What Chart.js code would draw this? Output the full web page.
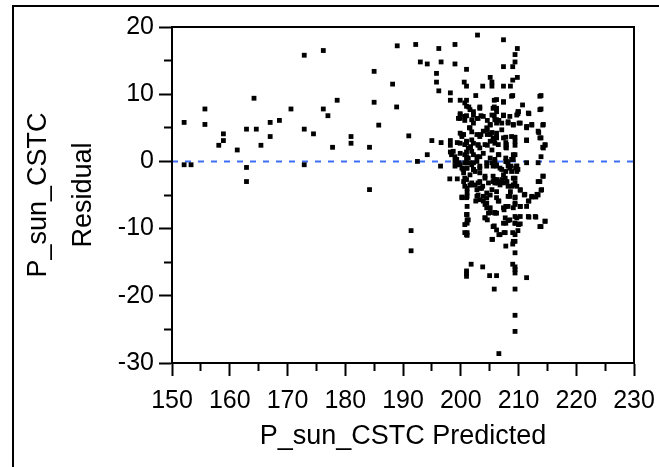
<!DOCTYPE html>
<html>
<head>
<meta charset="utf-8">
<script src="https://cdn.jsdelivr.net/npm/chart.js@4.4.1/dist/chart.umd.min.js"></script>
<style>
  html, body { margin: 0; padding: 0; background: #fff; }
</style>
</head>
<body>
<canvas id="myChart" width="659" height="467"></canvas>
<script>
// residuals vs predicted
const lowRange = [
    [152.1, 5.8], [152.1, -0.5], [153.3, -0.5], [155.7, 7.8], [155.7, 5.5], [158.1, 2.4], [158.9, 4.1],
    [158.9, 3.1], [161.3, 1.7], [162.9, -0.9], [162.9, -3.0], [162.9, 4.8], [164.2, 9.4], [164.6, 4.8],
    [165.4, 2.4], [167.0, 5.8], [167.0, 3.7], [168.6, 6.1], [170.6, 7.8], [172.9, 15.8], [172.9, 4.8],
    [172.9, -0.5], [174.5, 4.1], [176.2, 16.5], [176.2, 7.8], [177.0, 6.8], [178.6, 9.1], [177.8, 2.1],
    [181.0, 3.7], [181.0, 2.7], [184.2, 2.1], [184.2, -4.2], [185.0, 13.4], [185.0, 8.8], [185.8, 5.4]
]
const midRange = [
    [188.2, 11.5], [189.0, 17.2], [188.9, 8.1], [191.0, 3.8], [191.4, -10.3], [191.4, -13.3], [192.2, 17.4],
    [192.5, 0.0], [193.0, 14.8], [194.2, 14.5], [194.2, 1.0], [195.0, 3.1], [195.8, 13.1], [195.8, 11.8],
    [196.2, 10.5], [196.2, 16.8], [196.6, 14.8], [196.6, 2.8], [196.5, -0.7], [198.2, 10.2], [198.2, 9.1],
    [198.2, 3.1], [198.2, 2.4], [198.2, 1.4], [198.1, -2.6], [199.0, 17.4], [199.0, 14.5], [199.0, 0.7],
    [199.0, 0.0], [199.4, 2.8], [199.4, -2.6], [199.3, 0.3], [198.4, 1.0], [198.7, 1.5], [199.7, -0.2],
    [199.2, -0.5]
]
const clusterUpper = [
    [202.9, 18.8], [207.4, 18.1], [209.8, 16.8], [209.4, 15.9], [209.4, 14.8], [209.0, 14.1], [207.4, 14.1],
    [201.0, 13.7], [200.6, 11.8], [201.0, 11.2], [205.1, 12.5], [205.4, 11.8], [205.4, 11.2], [203.8, 11.2],
    [207.4, 11.2], [208.6, 11.2], [209.0, 12.1], [209.8, 12.5], [202.6, 9.8], [205.8, 9.1], [207.4, 8.8],
    [209.0, 9.8], [213.9, 9.8], [199.9, 9.1], [201.0, 9.1], [201.4, 8.1], [202.2, 7.4], [203.3, 8.1],
    [205.8, 8.1], [206.2, 7.4], [209.9, 7.4], [210.7, 8.4], [213.9, 7.8], [199.9, 7.1], [199.9, 6.4],
    [201.0, 6.8], [202.8, 6.4], [203.5, 6.8], [204.6, 6.1], [205.8, 6.8], [207.4, 6.8], [209.9, 7.1],
    [211.8, 7.1], [200.7, 6.1], [202.2, 5.7], [205.1, 5.4], [206.6, 6.1], [208.2, 5.7], [209.1, 5.4],
    [210.1, 5.7], [211.4, 5.0], [212.3, 5.4], [214.2, 5.4], [204.6, 4.7], [207.1, 4.7], [201.5, 5.0],
    [201.9, 4.4], [200.2, 4.0], [203.5, 4.0], [204.6, 4.0], [205.4, 4.3], [206.2, 3.6], [207.8, 3.6],
    [209.4, 3.6], [213.5, 4.3], [201.0, 2.8], [201.7, 2.2], [203.0, 2.4], [204.6, 2.4], [205.8, 3.1],
    [207.8, 2.8], [207.8, 2.1], [209.4, 2.4], [211.4, 3.1], [213.9, 3.5], [214.6, 2.4], [214.2, 2.1],
    [201.0, 1.4], [201.0, 0.7], [202.2, 1.0], [203.3, 0.7], [206.6, 1.0], [209.4, 1.0], [213.9, 0.7],
    [201.3, 0.5], [207.8, 0.5], [209.1, 0.3], [205.9, 0.3], [207.8, 0.0], [202.8, 0.0]
]
const clusterLower = [
    [201.5, -0.2], [205.4, -0.2], [211.4, -0.2], [213.4, -0.2], [200.7, -0.2], [202.2, -0.2], [204.5, -0.2],
    [208.2, -0.2], [208.7, -0.7], [209.5, -1.0], [209.9, -1.2], [208.8, -1.5], [207.8, -1.5], [207.4, -2.0],
    [207.1, -2.7], [208.0, -3.0], [209.1, -2.5], [209.4, -3.2], [209.7, -3.7], [208.8, -3.7], [207.4, -3.2],
    [206.5, -3.2], [205.6, -3.0], [204.8, -3.2], [204.2, -2.2], [203.3, -3.0], [201.9, -3.2], [201.0, -2.7],
    [200.5, -3.0], [200.2, -1.0], [200.5, -1.7], [201.6, -2.0], [202.5, -1.5], [202.8, -4.2], [205.9, -3.2],
    [206.2, -4.5], [205.4, -4.2], [204.5, -4.7], [206.8, -3.0], [205.8, -2.7], [203.3, -0.7], [202.2, -1.2],
    [203.3, -1.7], [200.4, -1.2], [201.6, -3.5], [202.5, -3.5], [203.3, -4.0], [203.8, -3.7], [200.2, -5.3],
    [203.0, -5.0], [203.9, -5.2], [202.6, -5.9], [203.9, -5.9], [204.5, -6.2], [205.1, -5.0], [204.5, -6.9],
    [205.1, -7.6], [205.9, -7.6], [204.2, -8.4], [204.6, -8.7], [205.8, -9.6], [206.2, -10.2], [206.6, -10.9],
    [205.5, -11.6], [207.5, -10.6], [207.8, -9.2], [208.2, -8.8], [207.5, -7.2], [207.8, -6.7], [206.6, -5.9],
    [208.2, -5.2], [208.6, -4.5], [209.4, -5.3], [209.4, -6.2], [209.1, -6.9], [209.4, -8.2], [210.3, -8.2],
    [209.4, -9.2], [210.3, -9.3], [209.9, -10.3], [209.0, -10.6], [209.4, -11.9], [209.0, -12.3], [207.8, -12.6],
    [209.4, -13.6], [209.0, -15.3], [209.4, -15.7], [209.4, -16.1], [209.4, -16.6], [211.4, -17.3], [205.8, -19.0],
    [209.4, -19.0], [209.4, -22.9], [209.4, -25.3], [206.6, -28.6], [203.8, -15.7], [205.0, -17.0], [206.2, -17.0],
    [201.8, -15.3], [201.0, -16.3], [201.0, -16.7], [201.0, -17.1], [201.1, -1.0], [201.1, -4.0], [201.1, -4.6],
    [201.1, -5.2], [201.1, -6.7], [201.1, -7.9], [201.1, -8.7], [201.1, -9.2], [201.1, -10.6], [201.1, -11.0],
    [214.2, -2.2], [213.4, -3.0], [213.9, -4.3], [210.3, -4.3], [211.0, -5.0], [211.8, -5.9], [212.3, -5.3],
    [213.0, -5.3], [213.4, -5.0], [211.4, -6.7], [210.3, -6.7], [211.8, -8.3], [213.0, -8.3], [214.6, -8.9],
    [213.9, -9.7]
]
// the crowded middle of the cluster, second pass
const clusterCore = [
    [200.7, 8.7], [201.0, 8.2], [201.6, 7.7], [203.3, 7.9], [205.6, 7.9], [202.2, 6.9], [201.9, 6.2],
    [200.7, 6.7], [199.9, 6.9], [199.6, 6.4], [203.0, 6.4], [203.9, 6.7], [205.4, 6.9], [205.9, 6.2],
    [206.2, 5.7], [205.1, 5.5], [204.5, 5.0], [203.9, 4.5], [203.3, 3.7], [202.8, 4.0], [201.6, 5.0],
    [200.5, 4.0], [199.9, 4.2], [200.2, 3.7], [205.1, 4.0], [205.6, 3.5], [206.2, 4.2], [199.9, 2.7],
    [200.7, 2.5], [201.3, 2.0], [201.0, 3.0], [201.9, 3.2], [202.2, 2.7], [203.0, 2.5], [203.3, 2.0],
    [204.2, 2.5], [205.1, 3.0], [205.9, 2.7], [205.4, 1.7], [206.5, 2.5], [199.9, 1.2], [200.7, 1.0],
    [201.9, 1.5], [202.8, 0.7], [203.9, 1.2], [205.1, 0.5], [205.9, 0.0], [201.0, 0.0], [201.9, -0.5],
    [199.9, -0.5], [206.2, 9.2], [207.4, 8.9], [208.8, 9.7], [213.7, 9.7], [206.2, 7.9], [207.4, 6.9],
    [208.5, 6.7], [210.0, 7.4], [209.7, 6.9], [211.7, 7.2], [213.7, 7.7], [206.2, 6.2], [207.1, 5.7],
    [208.2, 5.9], [209.1, 5.5], [210.3, 5.7], [211.4, 5.2], [212.3, 5.5], [214.3, 5.5], [213.4, 4.5],
    [206.2, 3.5], [207.4, 3.5], [208.8, 3.7], [209.4, 3.0], [207.9, 2.5], [207.9, 2.0], [211.4, 3.2],
    [213.7, 3.5], [214.6, 2.5], [214.3, 2.0], [206.5, 1.0], [209.1, 1.0], [208.8, 0.3], [207.9, 0.0],
    [209.7, -0.7], [208.5, -1.0], [206.2, -0.5], [206.8, -1.0], [199.0, -0.7], [201.0, -1.0], [202.2, -1.2],
    [203.3, -1.0], [204.5, -0.7], [205.6, -0.7], [200.7, -2.5], [200.7, -3.7], [201.9, -3.5], [203.0, -3.2],
    [203.6, -4.0], [204.2, -2.5], [205.6, -2.2], [206.2, -3.2], [200.2, -5.4], [201.0, -5.4], [202.8, -5.2],
    [203.3, -5.7], [204.5, -5.4], [206.2, -5.4], [204.2, -6.4], [205.1, -6.9], [204.8, -7.7], [205.9, -7.7],
    [201.0, -7.9], [201.3, -8.7], [200.7, -9.4], [204.2, -8.4], [205.6, -9.7], [200.7, -10.6], [201.0, -10.9],
    [205.4, -11.6], [206.2, -0.7], [207.1, -1.2], [208.2, -0.7], [209.7, -0.7], [209.7, -1.5], [206.2, -2.7],
    [207.7, -2.5], [209.4, -2.5], [206.8, -3.5], [208.2, -3.7], [209.1, -3.5], [213.7, -3.0], [214.3, -2.2],
    [210.3, -4.2], [211.1, -4.9], [212.3, -5.2], [213.2, -4.9], [214.0, -4.2], [208.5, -5.2], [209.4, -5.4],
    [211.7, -5.9], [206.5, -5.9], [207.4, -6.9], [208.2, -6.7], [209.4, -6.4], [210.3, -6.7], [206.2, -7.7],
    [207.7, -8.4], [208.5, -8.7], [209.7, -8.4], [211.7, -8.2], [212.9, -8.2], [214.6, -8.9], [213.7, -9.7],
    [207.4, -9.2], [209.4, -9.2], [210.0, -9.4], [206.8, -10.9], [207.7, -10.6], [209.4, -10.9], [209.1, -11.9]
]
// zero reference line
const refX = [150, 230]
const refY = [0, 0]

const xTitle = 'P_sun_CSTC Predicted'
const yTitle = ['P_sun_CSTC', 'Residual']

const FONT = "'Liberation Sans', Arial, sans-serif"

const allPts = [...lowRange, ...midRange, ...clusterUpper, ...clusterLower, ...clusterCore]
    .map(p => ({ x: p[0], y: p[1] }))
const refLine = refX.map((x, i) => ({ x: x, y: refY[i] }))

// frame round the page + box round the plot
const framePlugin = {
    id: 'frame',
    beforeDraw(chart) {
        const c = chart.ctx
        c.save()
        c.strokeStyle = '#000'
        c.lineWidth = 2
        c.beginPath()
        c.moveTo(13, chart.height)
        c.lineTo(13, 6)
        c.lineTo(chart.width, 6)
        c.stroke()
        c.restore()
    },
    afterDraw(chart) {
        const a = chart.chartArea
        const c = chart.ctx
        c.save()
        c.strokeStyle = '#000'
        c.lineWidth = 2
        c.strokeRect(a.left, a.top, a.right - a.left, a.bottom - a.top)
        c.restore()
    }
}

const minorX = c => (c.tick && c.tick.value % 10 !== 0) ? [7, 30] : []
const minorY = c => (c.tick && c.tick.value % 10 !== 0) ? [0, 5, 7, 30] : []

const ctx = document.getElementById('myChart')
const chart = new Chart(ctx, {
    type: 'scatter',
    data: {
        datasets: [{
            type: 'line',
            data: refLine,
            borderColor: 'rgb(60,110,245)',
            borderWidth: 2,
            borderDash: [6, 7],
            pointRadius: 0,
            fill: false,
            order: 1
        }, {
            data: allPts,
            pointStyle: 'rect',
            pointRadius: 3.4,
            backgroundColor: '#000',
            borderWidth: 0,
            order: 0
        }]
    },
    options: {
        responsive: false,
        animation: false,
        events: [],
        layout: { padding: { top: 27, right: 25, left: 0, bottom: 0 } },
        plugins: { legend: { display: false }, tooltip: { enabled: false } },
        scales: {
            x: {
                type: 'linear',
                min: 150,
                max: 230,
                afterFit: s => {
                    s.height = 104
                    // let the layout padding decide the plot edges
                    s.paddingLeft = 0
                    s.paddingRight = 0
                },
                ticks: {
                    stepSize: 5,
                    autoSkip: false,
                    maxRotation: 0,
                    padding: 10,
                    color: '#000',
                    font: { family: FONT, size: 25 },
                    callback: v => v % 10 === 0 ? String(v) : ''
                },
                grid: {
                    drawOnChartArea: false,
                    tickLength: 13,
                    tickWidth: 2,
                    tickColor: '#000',
                    tickBorderDash: minorX
                },
                border: { color: '#000', width: 2 },
                title: {
                    display: true,
                    text: xTitle,
                    color: '#000',
                    font: { family: FONT, size: 27 },
                    padding: { top: 0, bottom: 14 }
                }
            },
            y: {
                type: 'linear',
                min: -30,
                max: 20,
                afterFit: s => { s.width = 172 },
                ticks: {
                    stepSize: 5,
                    autoSkip: false,
                    padding: 5,
                    color: '#000',
                    font: { family: FONT, size: 25 },
                    callback: v => v % 10 === 0 ? String(v) : ''
                },
                grid: {
                    drawOnChartArea: false,
                    tickLength: 13,
                    tickWidth: 2,
                    tickColor: '#000',
                    tickBorderDash: minorY
                },
                border: { color: '#000', width: 2 },
                title: {
                    display: true,
                    text: yTitle,
                    color: '#000',
                    font: { family: FONT, size: 27, lineHeight: 45 / 27 },
                    padding: { top: 16.5, bottom: 0 }
                }
            }
        }
    },
    plugins: [framePlugin]
})
</script>
</body>
</html>
